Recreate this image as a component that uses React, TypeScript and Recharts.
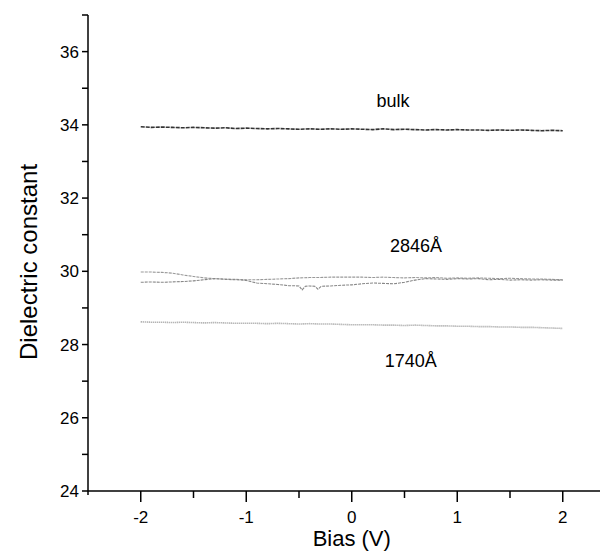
import React from 'react';
import { LineChart, Line, XAxis, YAxis, ReferenceDot, Label } from 'recharts';

const biasGrid = [
  -2.0, -1.9, -1.8, -1.7, -1.6, -1.5, -1.4, -1.3, -1.2, -1.1, -1.0,
  -0.9, -0.8, -0.7, -0.6, -0.5, -0.4, -0.3, -0.2, -0.1, 0.0,
  0.1, 0.2, 0.3, 0.4, 0.5, 0.6, 0.7, 0.8, 0.9, 1.0,
  1.1, 1.2, 1.3, 1.4, 1.5, 1.6, 1.7, 1.8, 1.9, 2.0,
];

const bulkValues = [
  33.95, 33.93, 33.94, 33.93, 33.92, 33.93, 33.92, 33.91, 33.92, 33.9, 33.91,
  33.9, 33.89, 33.9, 33.89, 33.88, 33.89, 33.88, 33.89, 33.88, 33.89,
  33.88, 33.87, 33.89, 33.87, 33.88, 33.87, 33.86, 33.87, 33.86, 33.87,
  33.86, 33.86, 33.85, 33.86, 33.85, 33.86, 33.85, 33.84, 33.85, 33.84,
];

const film2846UpValues = [
  29.98, 29.98, 29.97, 29.95, 29.9, 29.86, 29.82, 29.8, 29.79, 29.78, 29.77,
  29.77, 29.78, 29.79, 29.8, 29.82, 29.83, 29.83, 29.84, 29.84, 29.84,
  29.84, 29.83, 29.84, 29.83, 29.82, 29.83, 29.82, 29.83, 29.81, 29.82,
  29.81, 29.82, 29.81, 29.8, 29.81, 29.8, 29.79, 29.79, 29.78, 29.77,
];

const film2846DownBias = [
  -2.0, -1.9, -1.8, -1.7, -1.6, -1.5, -1.4, -1.3, -1.2, -1.1, -1.0,
  -0.9, -0.8, -0.7, -0.6, -0.5, -0.47, -0.44, -0.4, -0.35, -0.32, -0.29, -0.2, -0.1, 0.0,
  0.1, 0.2, 0.3, 0.4, 0.5, 0.6, 0.7, 0.8, 0.9, 1.0,
  1.1, 1.2, 1.3, 1.4, 1.5, 1.6, 1.7, 1.8, 1.9, 2.0,
];

const film2846DownValues = [
  29.7, 29.71, 29.7, 29.71, 29.72, 29.74, 29.77, 29.8, 29.78, 29.77, 29.75,
  29.68, 29.66, 29.64, 29.61, 29.6, 29.49, 29.59, 29.6, 29.59, 29.51, 29.59, 29.6, 29.62, 29.63,
  29.66, 29.68, 29.67, 29.66, 29.7, 29.76, 29.8, 29.79, 29.78, 29.8,
  29.79, 29.8, 29.77, 29.78, 29.76, 29.77, 29.76, 29.77, 29.76, 29.76,
];

const film1740Values = [
  28.62, 28.61, 28.61, 28.6, 28.61, 28.6, 28.59, 28.6, 28.59, 28.58, 28.58,
  28.58, 28.57, 28.58, 28.57, 28.56, 28.57, 28.56, 28.56, 28.55, 28.54,
  28.54, 28.54, 28.53, 28.53, 28.52, 28.53, 28.52, 28.51, 28.51, 28.5,
  28.5, 28.49, 28.49, 28.48, 28.48, 28.47, 28.47, 28.46, 28.45, 28.44,
];

const xTicks = [-2.5, -2, -1.5, -1, -0.5, 0, 0.5, 1, 1.5, 2, 2.5];
const yTicks = [24, 25, 26, 27, 28, 29, 30, 31, 32, 33, 34, 35, 36, 37];

const annotations = [
  { x: 0.39, y: 34.66, text: 'bulk' },
  { x: 0.61, y: 30.71, text: '2846Å' },
  { x: 0.56, y: 27.57, text: '1740Å' },
];

const FONT = "Arial, 'Liberation Sans', sans-serif";

const zip = (xs: number[], ys: number[]) => xs.map((x, i) => ({ x, y: ys[i] }));

const bulkData = zip(biasGrid, bulkValues);
const up2846Data = zip(biasGrid, film2846UpValues);
const down2846Data = zip(film2846DownBias, film2846DownValues);
const film1740Data = zip(biasGrid, film1740Values);

const XTick = (props: any) => {
  const { x, y, payload } = props;
  const v = payload.value;
  const major = Number.isInteger(v);
  const len = v === -2.5 ? 4 : major ? 11 : 7;
  return (
    <g>
      <line x1={x} y1={y} x2={x} y2={y + len} stroke="#000" strokeWidth={1.5} />
      {major && v !== -2.5 && (
        <text x={x} y={y + 32} textAnchor="middle" fontSize={17} fontFamily={FONT} fill="#000">
          {String(v)}
        </text>
      )}
    </g>
  );
};

const YTick = (props: any) => {
  const { x, y, payload } = props;
  const v = payload.value;
  const major = v % 2 === 0;
  return (
    <g>
      <line x1={x} y1={y} x2={x - 6} y2={y} stroke="#000" strokeWidth={1.5} />
      {major && (
        <text x={x - 9} y={y + 6} textAnchor="end" fontSize={17} fontFamily={FONT} fill="#000">
          {String(v)}
        </text>
      )}
    </g>
  );
};

export default function App() {
  return (
    <div style={{ width: 600, height: 543, overflow: 'hidden' }}>
      <LineChart
        width={620}
        height={543}
        margin={{ top: 7, right: 12.5, left: 0, bottom: 0 }}
      >
        <XAxis
          dataKey="x"
          type="number"
          domain={[-2.5, 2.5]}
          ticks={xTicks}
          allowDataOverflow
          height={60}
          tickSize={0}
          tickMargin={0}
          tickLine={false}
          tick={<XTick />}
          axisLine={{ stroke: '#000', strokeWidth: 1.5 }}
          interval={0}
        >
          <Label
            content={(p: any) => {
              const vb = p.viewBox;
              return (
                <text
                  x={vb.x + vb.width / 2}
                  y={vb.y + 55}
                  textAnchor="middle"
                  fontSize={22}
                  fontFamily={FONT}
                  fill="#000"
                >
                  Bias (V)
                </text>
              );
            }}
          />
        </XAxis>
        <YAxis
          type="number"
          domain={[24, 37]}
          ticks={yTicks}
          allowDataOverflow
          width={80}
          tickSize={0}
          tickMargin={0}
          tickLine={false}
          tick={<YTick />}
          axisLine={{ stroke: '#000', strokeWidth: 1.5 }}
          interval={0}
        >
          <Label
            content={(p: any) => {
              const vb = p.viewBox;
              const cx = vb.x + 20.5;
              const cy = vb.y + vb.height / 2 + 9;
              return (
                <text
                  x={cx}
                  y={cy}
                  transform={`rotate(-90, ${cx}, ${cy})`}
                  textAnchor="middle"
                  dominantBaseline="central"
                  fontSize={24}
                  fontFamily={FONT}
                  fill="#000"
                >
                  Dielectric constant
                </text>
              );
            }}
          />
        </YAxis>
        <Line
          data={bulkData}
          dataKey="y"
          type="linear"
          stroke="#333"
          strokeWidth={1.6}
          strokeDasharray="4 1"
          dot={false}
          isAnimationActive={false}
        />
        <Line
          data={up2846Data}
          dataKey="y"
          type="linear"
          stroke="#999"
          strokeWidth={1.1}
          strokeDasharray="3 1"
          dot={false}
          isAnimationActive={false}
        />
        <Line
          data={down2846Data}
          dataKey="y"
          type="linear"
          stroke="#888"
          strokeWidth={1.1}
          strokeDasharray="3 1"
          dot={false}
          isAnimationActive={false}
        />
        <Line
          data={film1740Data}
          dataKey="y"
          type="linear"
          stroke="#999"
          strokeWidth={1.6}
          strokeDasharray="1 1"
          dot={false}
          isAnimationActive={false}
        />
        {annotations.map((a) => (
          <ReferenceDot
            key={a.text}
            x={a.x}
            y={a.y}
            r={0}
            fill="none"
            stroke="none"
            label={{
              value: a.text,
              position: 'center',
              fontSize: 18,
              fontFamily: FONT,
              fill: '#000',
            }}
          />
        ))}
      </LineChart>
    </div>
  );
}
